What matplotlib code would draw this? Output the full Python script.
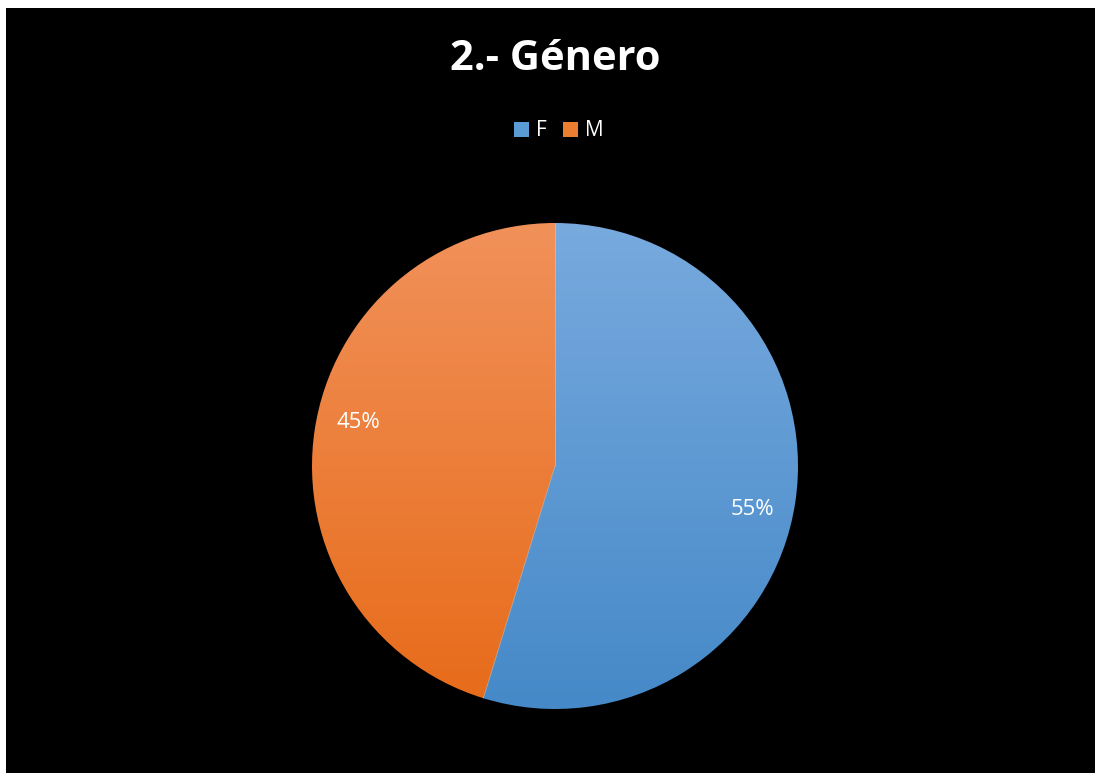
import numpy as np
import matplotlib
matplotlib.use("Agg")
import matplotlib.pyplot as plt
from matplotlib.patches import Patch
from matplotlib.colors import LinearSegmentedColormap

categories = ["F", "M"]
values = [23, 19]
title = "2.- Género"
top_colors = ["#78aade", "#f1915a"]
bottom_colors = ["#4589c8", "#e76b19"]
mid_colors = ["#5b9bd5", "#ed7d31"]

W, H = 1095, 773
fig = plt.figure(figsize=(W / 100, H / 100), dpi=100, facecolor="white")
bg = fig.add_axes([6 / W, 0, (W - 6) / W, (H - 8) / H], zorder=-5)
bg.set_facecolor("black")
bg.set_xticks([])
bg.set_yticks([])
for s in bg.spines.values():
    s.set_visible(False)

cx, cy, r = 555, 466, 243
ax = fig.add_axes([(cx - r) / W, (H - cy - r) / H, 2 * r / W, 2 * r / H], zorder=1)
ax.set_facecolor("none")

wedges, _ = ax.pie(values, startangle=90, counterclock=False, radius=1,
                   colors=mid_colors,
                   wedgeprops=dict(edgecolor="none", linewidth=0))
grad = np.linspace(0, 1, 256).reshape(-1, 1)
for w, tc, bc in zip(wedges, top_colors, bottom_colors):
    cmap = LinearSegmentedColormap.from_list("g", [tc, bc])
    im = ax.imshow(grad, cmap=cmap, extent=[-1, 1, -1, 1], aspect="auto",
                   origin="upper", zorder=1)
    im.set_clip_path(w)
    w.set_facecolor("none")

total = sum(values)
ang = 90.0
for v in values:
    a = np.deg2rad(ang)
    ax.plot([0, np.cos(a)], [0, np.sin(a)], color="#d0d0d0", lw=0.4, zorder=2)
    ang -= 360 * v / total

ang = 90.0
for v in values:
    mid = np.deg2rad(ang - 180 * v / total - 3.8)
    ax.text(0.83 * np.cos(mid), 0.83 * np.sin(mid), f"{round(100 * v / total)}%",
            ha="center", va="center", color="white", fontsize=16,
            family="Open Sans", zorder=3)
    ang -= 360 * v / total

ax.set_xlim(-1, 1)
ax.set_ylim(-1, 1)
ax.axis("off")

fig.text(555 / W, 1 - 60 / H, title, ha="center", va="center", color="white",
         fontsize=30, fontweight="bold", family="Open Sans")

handles = [Patch(facecolor=c, edgecolor="none") for c in mid_colors]
leg = fig.legend(handles, categories, loc="center", bbox_to_anchor=(559 / W, 1 - 131 / H),
                 ncol=2, frameon=False, handlelength=0.7,
                 handleheight=0.7, handletextpad=0.35, columnspacing=0.8,
                 prop=dict(family="Open Sans", size=15))
for t in leg.get_texts():
    t.set_color("white")

fig.savefig("out.png", dpi=100, facecolor="white")
